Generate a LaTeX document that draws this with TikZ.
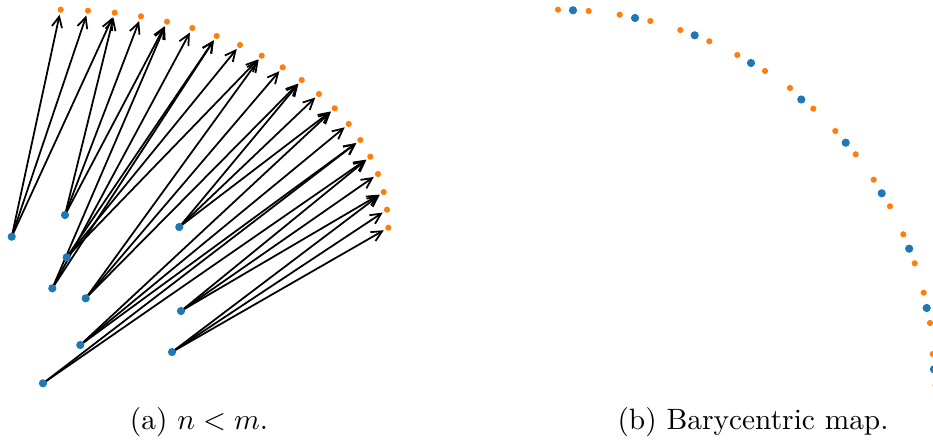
\documentclass[tikz,border=0pt]{standalone}
\definecolor{srcblue}{HTML}{1F77B4}
\definecolor{tgtorange}{HTML}{FF7F0E}
\usepackage{tikz}
\usetikzlibrary{arrows.meta,backgrounds}
\tikzset{
  srcdot/.style={circle,fill=srcblue,inner sep=0pt,minimum size=2.8pt},
  tgtdot/.style={circle,fill=tgtorange,inner sep=0pt,minimum size=2.1pt},
  transport/.style={-{Straight Barb[length=3.6pt,width=3.5pt]},
    line width=0.6pt,shorten >=0.5pt}
}
\begin{document}
\begin{tikzpicture}[x=0.34pt,y=-0.34pt]
    \useasboundingbox (0,0) rectangle (933,441);

    % (a) targets on the arc
    \node[tgtdot] (t1)  at (60.7,9.7)   {};
    \node[tgtdot] (t2)  at (88,10.7)    {};
    \node[tgtdot] (t3)  at (114.7,12.7) {};
    \node[tgtdot] (t4)  at (141,16.3)   {};
    \node[tgtdot] (t5)  at (167,21.7)   {};
    \node[tgtdot] (t6)  at (192.3,28)   {};
    \node[tgtdot] (t7)  at (216.7,36)   {};
    \node[tgtdot] (t8)  at (240,45)     {};
    \node[tgtdot] (t9)  at (261.7,55.7) {};
    \node[tgtdot] (t10) at (282.7,67.3) {};
    \node[tgtdot] (t11) at (301.7,80)   {};
    \node[tgtdot] (t12) at (319,94)     {};
    \node[tgtdot] (t13) at (334.7,108.3) {};
    \node[tgtdot] (t14) at (348.7,124)  {};
    \node[tgtdot] (t15) at (360.3,140)  {};
    \node[tgtdot] (t16) at (370.3,156.7) {};
    \node[tgtdot] (t17) at (378,174)    {};
    \node[tgtdot] (t18) at (383.7,192)  {};
    \node[tgtdot] (t19) at (387,209.7)  {};
    \node[tgtdot] (t20) at (388.3,227.7) {};

    % (a) sources
    \node[srcdot] (s1)  at (11.7,236.7) {};
    \node[srcdot] (s2)  at (65,215)     {};
    \node[srcdot] (s3)  at (52.3,288.3) {};
    \node[srcdot] (s4)  at (66.7,257.3) {};
    \node[srcdot] (s5)  at (85.7,298.3) {};
    \node[srcdot] (s6)  at (179.3,227)  {};
    \node[srcdot] (s7)  at (80.3,345)   {};
    \node[srcdot] (s8)  at (43,383.3)   {};
    \node[srcdot] (s9)  at (181,311)    {};
    \node[srcdot] (s10) at (172,352)    {};

    % transport plan
    \begin{scope}[on background layer]
      \draw[transport] (s1.center) -- (t1);
      \draw[transport] (s1.center) -- (t2);
      \draw[transport] (s1.center) -- (t3);
      \draw[transport] (s2.center) -- (t3);
      \draw[transport] (s2.center) -- (t4);
      \draw[transport] (s2.center) -- (t5);
      \draw[transport] (s3.center) -- (t5);
      \draw[transport] (s3.center) -- (t6);
      \draw[transport] (s3.center) -- (t7);
      \draw[transport] (s4.center) -- (t7);
      \draw[transport] (s4.center) -- (t8);
      \draw[transport] (s4.center) -- (t9);
      \draw[transport] (s5.center) -- (t9);
      \draw[transport] (s5.center) -- (t10);
      \draw[transport] (s5.center) -- (t11);
      \draw[transport] (s6.center) -- (t11);
      \draw[transport] (s6.center) -- (t12);
      \draw[transport] (s6.center) -- (t13);
      \draw[transport] (s7.center) -- (t13);
      \draw[transport] (s7.center) -- (t14);
      \draw[transport] (s7.center) -- (t15);
      \draw[transport] (s8.center) -- (t15);
      \draw[transport] (s8.center) -- (t16);
      \draw[transport] (s9.center) -- (t16);
      \draw[transport] (s9.center) -- (t17);
      \draw[transport] (s9.center) -- (t18);
      \draw[transport] (s10.center) -- (t18);
      \draw[transport] (s10.center) -- (t19);
      \draw[transport] (s10.center) -- (t20);
    \end{scope}

    % (b) targets
    \node[tgtdot] (r1)  at (558,9.7)    {};
    \node[tgtdot] (r2)  at (588.7,11)   {};
    \node[tgtdot] (r3)  at (619.7,14.7) {};
    \node[tgtdot] (r4)  at (650.3,21)   {};
    \node[tgtdot] (r5)  at (680.3,30)   {};
    \node[tgtdot] (r6)  at (709.3,41.3) {};
    \node[tgtdot] (r7)  at (737.3,55)   {};
    \node[tgtdot] (r8)  at (765,71)     {};
    \node[tgtdot] (r9)  at (790,88)     {};
    \node[tgtdot] (r10) at (813.3,108.7) {};
    \node[tgtdot] (r11) at (835.3,131)  {};
    \node[tgtdot] (r12) at (855.7,154.3) {};
    \node[tgtdot] (r13) at (873.7,179.7) {};
    \node[tgtdot] (r14) at (890,206.3)  {};
    \node[tgtdot] (r15) at (903.3,234.3) {};
    \node[tgtdot] (r16) at (914.7,263.3) {};
    \node[tgtdot] (r17) at (923.7,292.7) {};
    \node[tgtdot] (r18) at (930,323)    {};
    \node[tgtdot] (r19) at (932.8,354)  {};
    \node[tgtdot] (r20) at (935.5,385.3) {};

    % (b) barycentric images
    \node[srcdot] (b1)  at (573,10.3)   {};
    \node[srcdot] (b2)  at (635,18)     {};
    \node[srcdot] (b3)  at (694.7,35.3) {};
    \node[srcdot] (b4)  at (751,63)     {};
    \node[srcdot] (b5)  at (801.3,99.5) {};
    \node[srcdot] (b6)  at (845.7,142.7) {};
    \node[srcdot] (b7)  at (881.7,193.3) {};
    \node[srcdot] (b8)  at (909.2,248.7) {};
    \node[srcdot] (b9)  at (926.7,308)  {};
    \node[srcdot] (b10) at (934,369.3)  {};

    % captions
    \node[anchor=base] (capa) at (199,429) {(a) $n<m$.};
    \node[anchor=base] (capb) at (753,429) {(b) Barycentric map.};
  \end{tikzpicture}
\end{document}
